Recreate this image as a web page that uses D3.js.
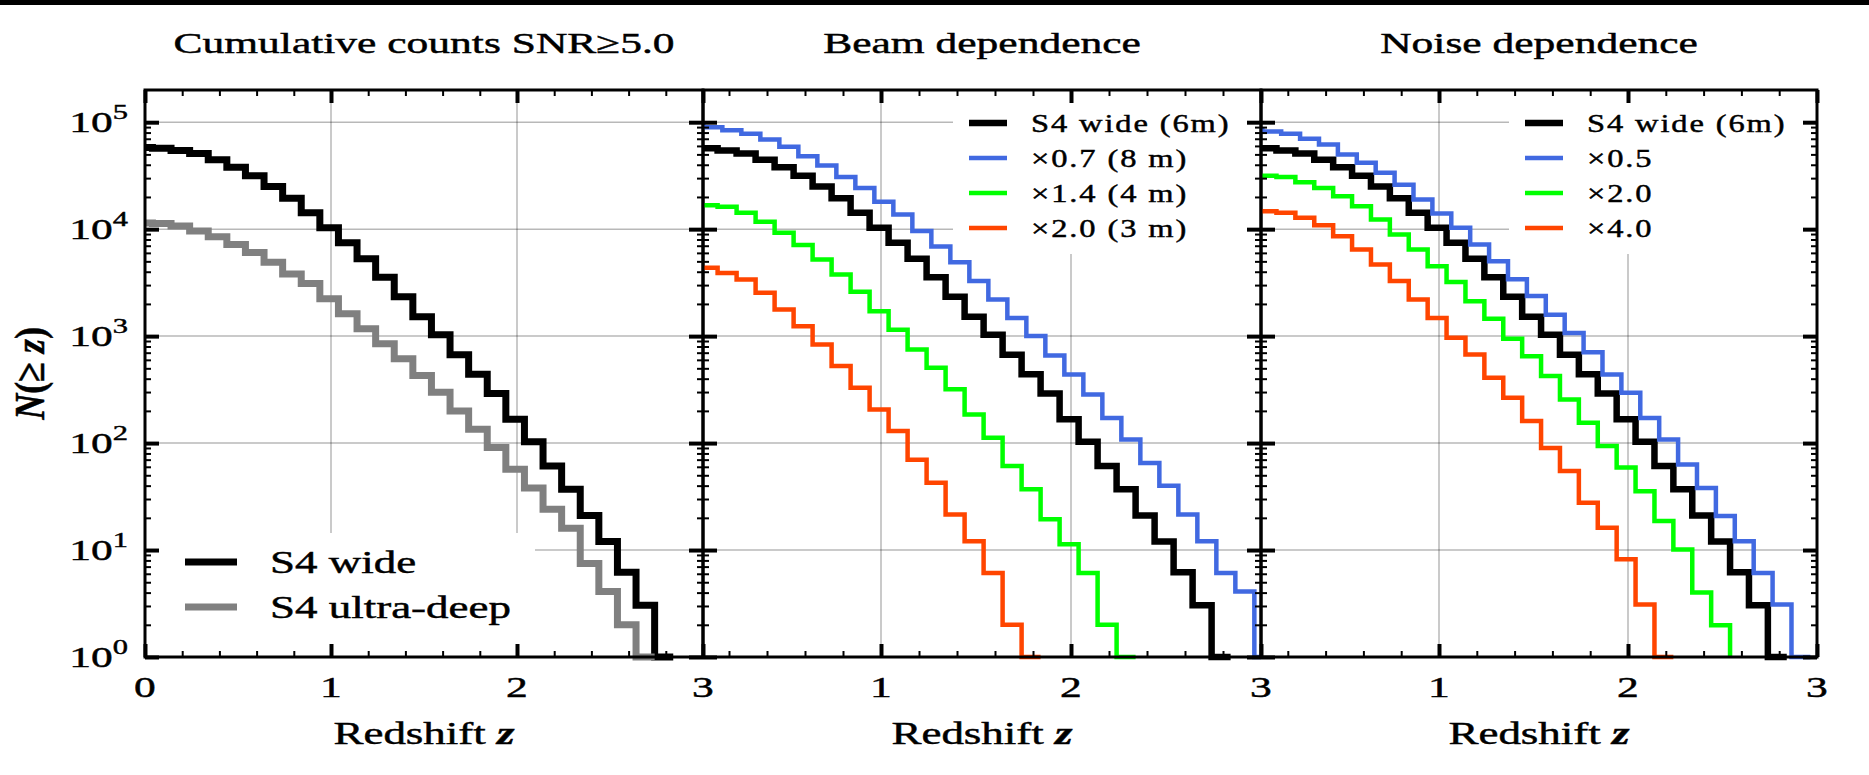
<!DOCTYPE html>
<html>
<head>
<meta charset="utf-8">
<title>Cumulative cluster counts</title>
<script src="https://cdn.jsdelivr.net/npm/d3@7"></script>
<style>
  body { margin: 0; background: #fff; }
  svg { display: block; }
  text { stroke: #000; stroke-width: 0.45px; }
</style>
</head>
<body>
<svg id="chart" width="1869" height="775"></svg>
<script>
// redshift bins are 0.1 wide, value i is N(>= z) for the bin centred on z = 0.1 * i
const zStep = 0.1;

const s4Wide = [58000, 57000, 54500, 51000, 44500, 38000, 31500, 25000, 19500, 14200, 10300, 7450, 5300, 3550,
  2330, 1520, 1030, 670, 440, 290, 167, 103, 61, 37, 21, 12, 6.2, 3.05, 1];
const s4UltraDeep = [11400, 11300, 10700, 9600, 8500, 7200, 6050, 4900, 3800, 3100, 2240, 1620, 1170, 850,
  613, 429, 298, 200, 135, 91, 57, 38, 24, 16, 7.5, 4.1, 2.0, 1];

// beam dependence
const beam07 = [92000, 89800, 84000, 78000, 68800, 58800, 48000, 39400, 30800, 24300, 18000, 13700, 9600, 6900,
  4900, 3270, 2200, 1480, 1000, 660, 438, 285, 172, 108, 65, 40, 21.5, 12.1, 6.1, 4.1, 1];
const beam14 = [17000, 16700, 16200, 14200, 11700, 9250, 7100, 5200, 3770, 2600, 1710, 1150, 750, 506,
  318, 185, 112, 61, 37, 19.4, 11.3, 6.1, 2.0, 1];
const beam20 = [4400, 4350, 3900, 3390, 2540, 1770, 1240, 835, 525, 329, 206, 130, 70, 42.6,
  21.5, 12.1, 6.1, 2.0, 1];

// noise dependence
const noise05 = [85000, 82000, 78000, 70000, 62000, 50000, 41700, 33600, 26000, 18900, 14000, 10300, 7200, 5000,
  3400, 2370, 1580, 1070, 707, 438, 295, 172, 108, 63, 38, 20.8, 12.1, 6.1, 3.1, 1];
const noise20 = [32000, 31600, 30800, 27500, 24300, 20300, 16400, 12300, 8900, 6460, 4500, 3200, 2120, 1450,
  944, 650, 423, 256, 155, 94, 59, 35.5, 18.7, 10.1, 4.0, 1.98];
const noise40 = [15000, 14700, 14200, 12800, 10900, 8600, 6460, 4680, 3270, 2200, 1480, 964, 675, 408,
  265, 161, 90, 54.7, 27.7, 16.2, 8.2, 3.1, 1];

const titles = ['Cumulative counts SNR≥5.0', 'Beam dependence', 'Noise dependence'];
const surveyNames = ['S4 wide', 'S4 ultra-deep'];
const beamNames = ['S4 wide (6m)', '×0.7 (8 m)', '×1.4 (4 m)', '×2.0 (3 m)'];
const noiseNames = ['S4 wide (6m)', '×0.5', '×2.0', '×4.0'];
const zMajor = [0, 1, 2, 3];
const nMajor = [1, 10, 100, 1000, 10000, 100000];

const BLACK = '#000', GRAY = '#808080', BLUE = '#4169e1', GREEN = '#00ff00', RED = '#ff4500';

const svg = d3.select('#chart');
const serif = '"Liberation Serif", "Times New Roman", serif';
const SX = 1.45;   // the lettering in the figure is stretched sideways
const plotTop = 90, plotBottom = 657;

const y = d3.scaleLog().domain([1, 2e5]).range([plotBottom, plotTop]);

const nMinor = [];
for (let k = 0; k < 5; k++) for (let m = 2; m <= 9; m++) nMinor.push(m * Math.pow(10, k));
const zMinor = d3.range(1, 15).map(i => i * 0.2).filter(z => Math.abs(z - Math.round(z)) > 1e-6);

const panels = [
  { left: 145, right: 703, range: [145, 703], title: titles[0],
    series: [
      { values: s4Wide, color: BLACK, width: 7, shift: -0.01 },
      { values: s4UltraDeep, color: GRAY, width: 7, shift: -0.01 }
    ],
    legend: 'bottom', names: surveyNames },
  { left: 703, right: 1261, range: [691, 1261], title: titles[1],
    series: [
      { values: s4Wide, color: BLACK, width: 6.5, shift: -0.01 },
      { values: beam07, color: BLUE, width: 4.5, shift: 0.015 },
      { values: beam14, color: GREEN, width: 4.5, shift: -0.01 },
      { values: beam20, color: RED, width: 4.5, shift: -0.01 }
    ],
    legend: 'top', names: beamNames },
  { left: 1261, right: 1817, range: [1250, 1817], title: titles[2],
    series: [
      { values: s4Wide, color: BLACK, width: 6.5, shift: -0.01 },
      { values: noise05, color: BLUE, width: 4.5, shift: 0.015 },
      { values: noise20, color: GREEN, width: 4.5, shift: -0.01 },
      { values: noise40, color: RED, width: 4.5, shift: -0.01 }
    ],
    legend: 'top', names: noiseNames }
];

function steps(values, shift) {
  const pts = values.map((v, i) => [i === 0 ? 0 : (i - 0.5) * zStep + shift, v]);
  const end = (values.length - 0.5) * zStep + shift;
  pts.push([end, values[values.length - 1]], [end, 1]);
  return pts;
}

function stretched(g, x, yy, size, sx = SX) {
  return g.append('text')
    .attr('transform', `translate(${x},${yy}) scale(${sx},1)`)
    .attr('font-family', serif)
    .attr('font-size', size)
    .attr('fill', '#000');
}

function ticks(g, axisFn, scale, pos, values, size, width) {
  g.append('g')
    .attr('transform', pos)
    .call(axisFn(scale).tickValues(values).tickSize(size).tickFormat(''))
    .call(a => a.select('.domain').remove())
    .selectAll('line').attr('stroke', '#000').attr('stroke-width', width);
}

// black strip along the top edge
svg.append('rect').attr('x', 0).attr('y', 0).attr('width', 1869).attr('height', 5).attr('fill', '#000');

panels.forEach((p, pi) => {
  const x = d3.scaleLinear().domain([0, 3]).range(p.range);
  const g = svg.append('g');
  const vis = z => x(z) >= p.left - 1;

  // grid
  g.append('g').selectAll('line').data([1, 2]).join('line')
    .attr('x1', d => x(d)).attr('x2', d => x(d)).attr('y1', plotTop).attr('y2', plotBottom)
    .attr('stroke', '#000').attr('stroke-opacity', 0.28).attr('stroke-width', 1.5);
  g.append('g').selectAll('line').data(nMajor.slice(1)).join('line')
    .attr('x1', p.left).attr('x2', p.right).attr('y1', d => y(d)).attr('y2', d => y(d))
    .attr('stroke', '#000').attr('stroke-opacity', 0.28).attr('stroke-width', 1.5);

  // legend background hides the grid
  if (p.legend === 'top') {
    g.append('rect').attr('x', p.right - 308).attr('y', plotTop + 2)
      .attr('width', 306).attr('height', 162).attr('fill', '#fff');
  } else {
    g.append('rect').attr('x', p.left + 2).attr('y', 533)
      .attr('width', 388).attr('height', plotBottom - 535).attr('fill', '#fff');
  }

  // step curves
  const clipId = 'clip' + pi;
  svg.append('clipPath').attr('id', clipId).append('rect')
    .attr('x', p.left).attr('y', plotTop).attr('width', p.right - p.left).attr('height', plotBottom - plotTop + 4);
  const line = d3.line().x(d => x(d[0])).y(d => y(d[1])).curve(d3.curveStepAfter);
  g.append('g').attr('clip-path', `url(#${clipId})`)
    .selectAll('path').data(p.series).join('path')
    .attr('d', s => line(steps(s.values, s.shift)))
    .attr('fill', 'none')
    .attr('stroke', s => s.color)
    .attr('stroke-width', s => s.width)
    .attr('stroke-linejoin', 'miter');

  // frame and ticks
  g.append('rect').attr('x', p.left).attr('y', plotTop).attr('width', p.right - p.left).attr('height', plotBottom - plotTop)
    .attr('fill', 'none').attr('stroke', '#000').attr('stroke-width', 3);
  ticks(g, d3.axisRight, y, `translate(${p.left},0)`, nMajor, 14, 4);
  ticks(g, d3.axisRight, y, `translate(${p.left},0)`, nMinor, 6, 2);
  ticks(g, d3.axisLeft, y, `translate(${p.right},0)`, nMajor, 14, 4);
  ticks(g, d3.axisLeft, y, `translate(${p.right},0)`, nMinor, 6, 2);
  ticks(g, d3.axisTop, x, `translate(0,${plotBottom})`, zMajor.filter(vis), 13, 4);
  ticks(g, d3.axisTop, x, `translate(0,${plotBottom})`, zMinor.filter(vis), 6, 2);
  ticks(g, d3.axisBottom, x, `translate(0,${plotTop})`, zMajor.filter(vis), 13, 4);
  ticks(g, d3.axisBottom, x, `translate(0,${plotTop})`, zMinor.filter(vis), 6, 2);

  // tick labels
  zMajor.filter(vis).forEach(z => {
    stretched(g, x(z), 697, 30).attr('text-anchor', 'middle').text(z);
  });
  if (pi === 0) {
    nMajor.forEach(n => {
      const t = stretched(g, 128, y(n) + 10, 30).attr('text-anchor', 'end');
      t.append('tspan').text('10');
      t.append('tspan').attr('font-size', 21).attr('dy', -13).text(Math.round(Math.log10(n)));
    });
    const yl = g.append('text')
      .attr('transform', `translate(44,${(plotTop + plotBottom) / 2}) scale(1.15,1) rotate(-90)`)
      .attr('font-family', serif).attr('font-size', 36).attr('font-weight', 'bold')
      .attr('text-anchor', 'middle');
    yl.append('tspan').attr('font-style', 'italic').text('N');
    yl.append('tspan').text('(≥\u00a0');
    yl.append('tspan').attr('font-style', 'italic').text('z');
    yl.append('tspan').text(')');
  }

  const cx = (p.left + p.right) / 2;
  stretched(g, cx, 53, 30).attr('text-anchor', 'middle').text(p.title);
  const xl = stretched(g, cx, 744, 31).attr('text-anchor', 'middle');
  xl.append('tspan').text('Redshift ');
  xl.append('tspan').attr('font-style', 'italic').attr('font-weight', 'bold').text('z');

  // legend
  if (p.legend === 'top') {
    p.series.forEach((s, i) => {
      const ly = 123 + i * 35;
      g.append('line').attr('x1', p.right - 292).attr('x2', p.right - 254).attr('y1', ly).attr('y2', ly)
        .attr('stroke', s.color).attr('stroke-width', s.width);
      stretched(g, p.right - 230, ly + 9, 26, 1.25).attr('letter-spacing', 1.5).text(p.names[i]);
    });
  } else {
    p.series.forEach((s, i) => {
      const ly = 562 + i * 45;
      g.append('line').attr('x1', p.left + 40).attr('x2', p.left + 92).attr('y1', ly).attr('y2', ly)
        .attr('stroke', s.color).attr('stroke-width', s.width);
      stretched(g, p.left + 125, ly + 11, 31).text(p.names[i]);
    });
  }
});
</script>
</body>
</html>
